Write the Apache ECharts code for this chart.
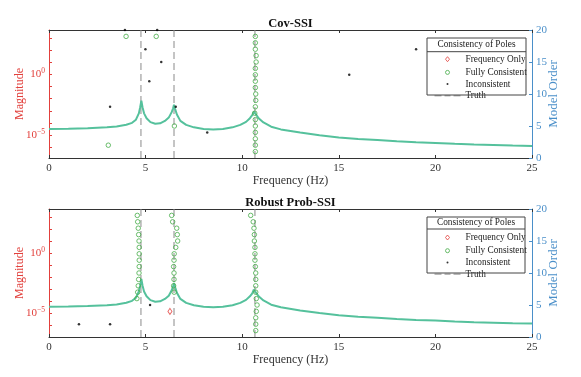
<!DOCTYPE html>
<html>
<head>
<meta charset="utf-8">
<script src="https://cdn.jsdelivr.net/npm/echarts@6/dist/echarts.min.js"></script>
<style>
  html, body { margin: 0; padding: 0; background: #fff; }
  #chart { width: 581px; height: 377px; }
</style>
</head>
<body>
<div id="chart"></div>
<script>
// magnitude curve (log10 of magnitude)
const freqHz = [0, 1, 2, 3, 3.5, 4, 4.3, 4.5, 4.65, 4.72, 4.78, 4.84, 4.92, 5.05, 5.25, 5.5, 5.75, 6.0, 6.2, 6.35, 6.42, 6.47,
  6.53, 6.62, 6.8, 7.1, 7.5, 8, 8.5, 9, 9.5, 9.9, 10.2, 10.4, 10.52, 10.6, 10.66, 10.74, 10.85, 11.1, 11.5, 12, 13, 14, 15,
  16, 17, 18, 19, 20, 21, 22, 23, 24, 25]
const magLog10 = [-4.48, -4.46, -4.42, -4.34, -4.28, -4.14, -3.98, -3.72, -3.2, -2.7, -2.15, -2.7, -3.2, -3.6, -3.92, -4.05,
  -4.02, -3.82, -3.55, -3.1, -2.8, -2.5, -2.85, -3.3, -3.82, -4.15, -4.35, -4.48, -4.52, -4.48, -4.35, -4.15, -3.9, -3.6,
  -3.35, -3.05, -3.0, -3.35, -3.6, -3.95, -4.3, -4.52, -4.78, -5.0, -5.18, -5.3, -5.4, -5.5, -5.57, -5.63, -5.7, -5.76,
  -5.8, -5.85, -5.88]

const truthHz = [4.76, 6.47, 10.66]
const xTicks = [0, 5, 10, 15, 20, 25]
const magTickExp = [-6, -5, -4, -3, -2, -1, 0, 1, 2, 3]
const magLabelExp = [0, -5]

// Cov-SSI poles
const covFullHz = [3.99, 5.55, 3.07, 6.49,
  10.68, 10.68, 10.68, 10.72, 10.72, 10.68, 10.68, 10.68, 10.68, 10.70, 10.70, 10.68, 10.65, 10.68, 10.68, 10.68, 10.68, 10.68, 10.68]
const covFullOrder = [19, 19, 2, 5,
  19, 18, 17, 16, 15, 14, 13, 12, 11, 10, 9, 8, 7, 6, 5, 4, 3, 2, 1]
const covInconHz = [3.16, 3.93, 5.6, 4.99, 5.81, 5.19, 6.56, 8.19, 19.0, 15.54]
const covInconOrder = [8, 20, 20, 17, 15, 12, 8, 4, 17, 13]
const covFreqOnlyHz = []
const covFreqOnlyOrder = []

// Robust Prob-SSI poles
const robFullHz = [
  4.57, 4.59, 4.62, 4.64, 4.66, 4.67, 4.67, 4.67, 4.67, 4.66, 4.64, 4.62, 4.59, 4.55,
  6.35, 6.40, 6.61, 6.64, 6.66, 6.56, 6.48, 6.47, 6.45, 6.47, 6.47, 6.45, 6.48,
  10.44, 10.57, 10.61, 10.63, 10.63, 10.66, 10.66, 10.66, 10.68, 10.70, 10.70, 10.70, 10.70, 10.73, 10.77, 10.73, 10.70, 10.70, 10.70]
const robFullOrder = [
  19, 18, 17, 16, 15, 14, 13, 12, 11, 10, 9, 8, 7, 6,
  19, 18, 17, 16, 15, 14, 13, 12, 11, 10, 9, 8, 7,
  19, 18, 17, 16, 15, 14, 13, 12, 11, 10, 9, 8, 7, 6, 5, 4, 3, 2, 1]
const robInconHz = [1.55, 3.16, 5.23]
const robInconOrder = [2, 2, 5]
const robFreqOnlyHz = [6.26]
const robFreqOnlyOrder = [4]

const RED = '#e2403c'
const BLUE = '#4a8fc9'
const GREEN = '#46ad48'
const TEAL = '#55c19c'
const GRAY = '#8a8a8a'
const AXIS = '#333333'
const FONT = '"Liberation Serif", "DejaVu Serif", serif'

const zip = (a, b) => a.map((v, i) => [v, b[i]])

function xAxes(gridIndex) {
  return [{
    gridIndex,
    type: 'value',
    min: 0,
    max: 25,
    interval: 5,
    name: 'Frequency (Hz)',
    nameLocation: 'middle',
    nameGap: 17,
    nameTextStyle: { color: AXIS, fontFamily: FONT, fontSize: 12 },
    axisLine: { onZero: false, lineStyle: { color: AXIS } },
    axisTick: { inside: true, length: 3, lineStyle: { color: AXIS } },
    axisLabel: { color: AXIS, fontFamily: FONT, fontSize: 11, margin: 5, customValues: xTicks },
    splitLine: { show: false }
  }, {
    gridIndex,
    type: 'value',
    position: 'top',
    min: 0,
    max: 25,
    interval: 5,
    axisLine: { onZero: false, lineStyle: { color: AXIS } },
    axisTick: { inside: true, length: 3, lineStyle: { color: AXIS } },
    axisLabel: { show: false },
    splitLine: { show: false }
  }]
}

function yAxes(gridIndex, magMin, magMax) {
  return [{
    gridIndex,
    type: 'value',
    position: 'left',
    min: magMin,
    max: magMax,
    name: 'Magnitude',
    nameLocation: 'middle',
    nameRotate: 90,
    nameGap: 23,
    nameMoveOverlap: false,
    nameTextStyle: { color: RED, fontFamily: FONT, fontSize: 12 },
    axisLine: { show: true, onZero: false, lineStyle: { color: RED } },
    axisTick: { inside: true, length: 3, customValues: magTickExp, lineStyle: { color: RED } },
    axisLabel: {
      customValues: magLabelExp,
      margin: 4,
      formatter: v => '{b|10}{s|' + (v === 0 ? '0' : '\u22125') + '}',
      rich: {
        b: { color: RED, fontFamily: FONT, fontSize: 11, lineHeight: 14 },
        s: { color: RED, fontFamily: FONT, fontSize: 7.5, verticalAlign: 'top', lineHeight: 14 }
      }
    },
    splitLine: { show: false }
  }, {
    gridIndex,
    type: 'value',
    position: 'right',
    min: 0,
    max: 20,
    interval: 5,
    name: 'Model Order',
    nameLocation: 'middle',
    nameRotate: 90,
    nameGap: 15,
    nameMoveOverlap: false,
    nameTextStyle: { color: BLUE, fontFamily: FONT, fontSize: 13 },
    axisLine: { show: true, onZero: false, lineStyle: { color: BLUE } },
    axisTick: { inside: true, length: 3, lineStyle: { color: BLUE } },
    axisLabel: { color: BLUE, fontFamily: FONT, fontSize: 11, margin: 4 },
    splitLine: { show: false }
  }]
}

function seriesFor(k, freqOnly, full, incon) {
  const xi = k * 2
  const yMag = k * 2
  const yOrd = k * 2 + 1
  const out = []
  truthHz.forEach(f => {
    out.push({
      name: 'Truth',
      type: 'line',
      xAxisIndex: xi,
      yAxisIndex: yOrd,
      data: [[f, 0], [f, 20]],
      symbol: 'none',
      silent: true,
      z: 1,
      lineStyle: { color: GRAY, width: 1, type: [7, 4] },
      itemStyle: { color: GRAY }
    })
  })
  out.push({
    name: 'FRF',
    type: 'line',
    xAxisIndex: xi,
    yAxisIndex: yMag,
    data: zip(freqHz, magLog10),
    symbol: 'none',
    z: 2,
    lineStyle: { color: TEAL, width: 2 }
  })
  out.push({
    name: 'Frequency Only',
    type: 'scatter',
    xAxisIndex: xi,
    yAxisIndex: yOrd,
    data: freqOnly,
    symbol: 'diamond',
    symbolSize: [4, 6],
    z: 3,
    itemStyle: { color: 'rgba(0,0,0,0)', borderColor: RED, borderWidth: 1 }
  })
  out.push({
    name: 'Fully Consistent',
    type: 'scatter',
    xAxisIndex: xi,
    yAxisIndex: yOrd,
    data: full,
    symbol: 'circle',
    symbolSize: 4.5,
    z: 3,
    itemStyle: { color: 'rgba(0,0,0,0)', borderColor: GREEN, borderWidth: 1 }
  })
  out.push({
    name: 'Inconsistent',
    type: 'scatter',
    xAxisIndex: xi,
    yAxisIndex: yOrd,
    data: incon,
    symbol: 'circle',
    symbolSize: 2.5,
    z: 3,
    itemStyle: { color: '#000' }
  })
  return out
}

// legend icons: the leading moves fix a 26x8 box so every glyph keeps its own size
const BOX = 'path://M0,0M26,8'
function legendFor(top) {
  return {
    left: 432,
    top,
    orient: 'vertical',
    padding: 0,
    itemGap: 0.2,
    itemWidth: 26,
    itemHeight: 8,
    selectedMode: false,
    data: [{
      name: 'Frequency Only',
      icon: BOX + 'M13,1.5L15,4L13,6.5L11,4Z',
      itemStyle: { color: 'none', borderColor: RED, borderWidth: 1 }
    }, {
      name: 'Fully Consistent',
      icon: BOX + 'M11,4A2,2 0 1,0 15,4A2,2 0 1,0 11,4Z',
      itemStyle: { color: 'none', borderColor: GREEN, borderWidth: 1 }
    }, {
      name: 'Inconsistent',
      icon: BOX + 'M12,4A1,1 0 1,0 14,4A1,1 0 1,0 12,4Z',
      itemStyle: { color: '#000', borderWidth: 0 }
    }, {
      name: 'Truth',
      icon: BOX + 'M0,4L7,4M10,4L16,4M19,4L26,4',
      itemStyle: { color: 'none', borderColor: GRAY, borderWidth: 1 }
    }],
    textStyle: { fontFamily: FONT, fontSize: 9.3, color: '#222', lineHeight: 10 }
  }
}

function legendBox(x, y, w, h, sepY) {
  return [{
    type: 'rect',
    shape: { x, y, width: w, height: h },
    style: { fill: 'none', stroke: '#444', lineWidth: 1 },
    z: 50
  }, {
    type: 'line',
    shape: { x1: x, y1: sepY, x2: x + w, y2: sepY },
    style: { stroke: '#444', lineWidth: 1 },
    z: 51
  }, {
    type: 'text',
    x: x + w / 2,
    y: (y + sepY) / 2,
    style: {
      text: 'Consistency of Poles',
      fontFamily: FONT,
      fontSize: 9.3,
      fill: '#222',
      align: 'center',
      verticalAlign: 'middle'
    },
    z: 51
  }]
}

const chart = echarts.init(document.getElementById('chart'))
chart.setOption({
  backgroundColor: '#fff',
  animation: false,
  title: [{
    text: 'Cov-SSI',
    left: 'center',
    top: 12,
    textStyle: { fontFamily: FONT, fontSize: 12.5, fontWeight: 'bold', color: '#111' }
  }, {
    text: 'Robust Prob-SSI',
    left: 'center',
    top: 191,
    textStyle: { fontFamily: FONT, fontSize: 12.5, fontWeight: 'bold', color: '#111' }
  }],
  grid: [
    { left: 49, right: 49, top: 30, height: 128 },
    { left: 49, right: 49, top: 209, height: 128 }
  ],
  xAxis: [...xAxes(0), ...xAxes(1)],
  yAxis: [...yAxes(0, -6.87, 3.65), ...yAxes(1, -7.0, 3.69)],
  legend: [legendFor(52.7), legendFor(231)],
  graphic: [...legendBox(427, 38, 99, 57, 51.7), ...legendBox(427, 217, 98, 56, 229)],
  series: [
    ...seriesFor(0, zip(covFreqOnlyHz, covFreqOnlyOrder), zip(covFullHz, covFullOrder), zip(covInconHz, covInconOrder)),
    ...seriesFor(1, zip(robFreqOnlyHz, robFreqOnlyOrder), zip(robFullHz, robFullOrder), zip(robInconHz, robInconOrder))
  ]
})
</script>
</body>
</html>
